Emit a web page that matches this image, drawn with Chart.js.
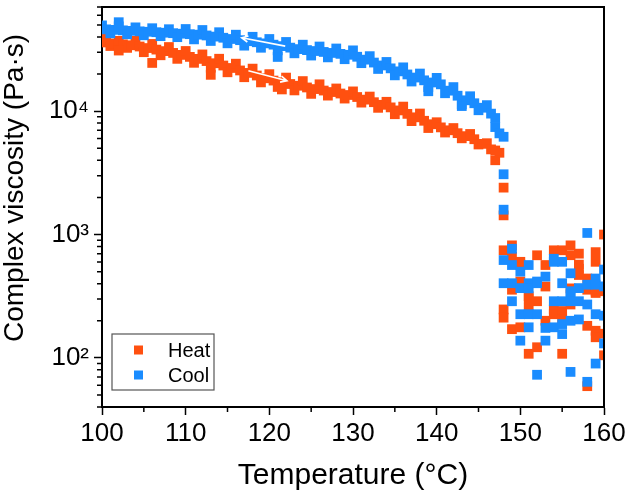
<!DOCTYPE html>
<html><head><meta charset="utf-8">
<script src="https://cdn.jsdelivr.net/npm/chart.js@4.4.0/dist/chart.umd.min.js"></script>
<style>html,body{margin:0;padding:0;background:#fff;}canvas{display:block;}</style>
</head><body>
<canvas id="c" width="626" height="493" style="width:626px;height:493px"></canvas>
<script>
// ---------- data ----------
const seriesNames = ['Heat', 'Cool'];
const seriesColors = ['#FF5010', '#1A8CFF'];
const xTitle = 'Temperature (°C)';
const yTitle = 'Complex viscosity (Pa·s)';

const heatT = [100,100.5,101,101.5,102,102.5,103,103.5,104,104.5,105,105.5,106,106.5,107,107.5,108,108.5,109,109.5,
  110,110.5,111,111.5,112,112.5,113,113.5,114,114.5,115,115.5,116,116.5,117,117.5,118,118.5,119,119.5,
  120,120.5,121,121.5,122,122.5,123,123.5,124,124.5,125,125.5,126,126.5,127,127.5,128,128.5,129,129.5,
  130,130.5,131,131.5,132,132.5,133,133.5,134,134.5,135,135.5,136,136.5,137,137.5,138,138.5,139,139.5,
  140,140.5,141,141.5,142,142.5,143,143.5,144,144.5,145,145.5,146,146.5,147,147.5,
  102,106,113,121.5,147,
  148,148,
  148,148,148,149,149,149,149,150,150,150,150,151,151,151,151,152,152,152,153,153,153,154,154,154,155,155,155,155,
  156,156,156,156,157,157,157,157,158,158,158,158,159,159,159,159,159,159,160,160,160,160];
const heatV = [38540,36060,33730,35400,37150,34800,32580,34200,37130,33420,30060,32470,35060,31550,28380,30660,33100,29650,26550,28580,
  30740,27540,24660,26520,28830,25470,22500,24460,26600,23440,20660,22390,24260,21380,18840,20420,22120,19450,17110,18470,
  19950,17700,15710,17140,18710,16600,14730,16070,17530,15560,13810,15100,16510,14690,13370,14290,15270,13900,12650,13520,
  14460,13020,11730,12400,13130,11820,10640,11260,11910,10730,9444,10140,10890,9506,8302,8913,9571,8356,7298,7834,
  8132,7388,6712,6998,7298,6630,6024,6273,6534,5922,5368,5433,5498,4900,4000,4600,
  31000,24600,19700,15000,4800,
  2400,1430,
  745,247,212,817,660,357,171,601,570,416,177,316,304,255,108,679,288,122,566,379,200,745,247,226,745,240,206,108,
  817,680,366,271,700,570,528,470,440,357,182,59,720,601,346,336,166,147,1000,347,157,105];

const coolT = [100,100.5,101,101.5,102,102.5,103,103.5,104,104.5,105,105.5,106,106.5,107,107.5,108,108.5,109,109.5,
  110,110.5,111,111.5,112,112.5,113,113.5,114,114.5,115,115.5,116,116.5,117,117.5,118,118.5,119,119.5,
  120,120.5,121,121.5,122,122.5,123,123.5,124,124.5,125,125.5,126,126.5,127,127.5,128,128.5,129,129.5,
  130,130.5,131,131.5,132,132.5,133,133.5,134,134.5,135,135.5,136,136.5,137,137.5,138,138.5,139,139.5,
  140,140.5,141,141.5,142,142.5,143,143.5,144,144.5,145,145.5,146,146.5,147,147.5,
  102,121,139,143,147,
  148,148,148,
  148,148,149,149,149,149,150,150,150,150,151,151,151,151,151,152,152,152,152,153,153,153,154,154,154,154,155,155,155,155,155,
  156,156,156,156,156,156,157,157,157,158,158,158,158,159,159,159,159,160,160,160,160];
const coolV = [49570,46030,42740,45600,48660,45190,41970,44770,47780,44360,41200,44010,47010,43650,40540,43250,46150,42850,39800,42460,
  46330,42070,38190,41690,45480,41070,37060,40220,43630,39360,35480,38460,41670,37620,33960,36900,40070,36180,32660,35440,
  38450,34590,31120,33650,36380,32730,29440,31840,34580,31260,28240,30720,33410,30200,27290,29650,32200,29140,26370,28640,
  31100,27610,24490,26150,27920,24770,21980,23470,25050,22230,19510,21020,22650,19840,17390,18730,20180,17780,15680,17080,
  18620,16500,13970,14660,15670,13340,11360,12250,13210,11590,10170,10660,11190,9550,7433,6607,
  52600,27500,14500,11000,8800,
  6200,3080,1590,
  621,403,767,566,403,288,500,368,226,138,566,403,366,226,177,416,403,226,73,456,175,138,636,601,288,177,601,403,288,188,156,
  485,347,327,288,200,77,368,288,205,1030,392,271,64,440,392,226,90,520,380,220,131];

// axis ticks and labels
const xTicks = [100, 110, 120, 130, 140, 150, 160];
const xMinorTicks = [105, 115, 125, 135, 145, 155];
const yTicks = [100, 1000, 10000];
const yTickLabels = ['10²', '10³', '10⁴'];
const yDecades = [10, 100, 1000, 10000];
const yMinorMult = [2, 3, 4, 5, 6, 7, 8, 9];

// white direction arrows: [from, to] in data coordinates
const arrowCool = [[121.9, 33650], [116.7, 39300]];
const arrowHeat = [[117.5, 21230], [122.1, 17650]];

// ---------- chart ----------
const FONT = "'Liberation Sans', Arial, Helvetica, sans-serif";

const decor = {
  id: 'decor',
  afterDatasetsDraw(chart) {
    const { ctx, scales: { x, y } } = chart;
    ctx.save();
    ctx.strokeStyle = '#fff';
    ctx.lineWidth = 1.6;
    for (const a of [arrowCool, arrowHeat]) {
      const x1 = x.getPixelForValue(a[0][0]), y1 = y.getPixelForValue(a[0][1]);
      const x2 = x.getPixelForValue(a[1][0]), y2 = y.getPixelForValue(a[1][1]);
      const ang = Math.atan2(y2 - y1, x2 - x1);
      ctx.beginPath();
      ctx.moveTo(x1, y1); ctx.lineTo(x2, y2);
      const L = 7, w = 0.45;
      ctx.moveTo(x2 - L * Math.cos(ang - w), y2 - L * Math.sin(ang - w));
      ctx.lineTo(x2, y2);
      ctx.lineTo(x2 - L * Math.cos(ang + w), y2 - L * Math.sin(ang + w));
      ctx.stroke();
    }
    ctx.restore();
  },
  afterDraw(chart) {
    const { ctx, chartArea: ca, scales: { x, y } } = chart;
    ctx.save();
    ctx.strokeStyle = '#000';
    ctx.lineWidth = 2;
    ctx.beginPath();
    ctx.moveTo(ca.left - 1, ca.top);
    ctx.lineTo(ca.right, ca.top);
    ctx.lineTo(ca.right, ca.bottom + 1);
    ctx.stroke();
    // minor ticks
    ctx.lineWidth = 1.5;
    ctx.beginPath();
    for (const d of yDecades) for (const m of yMinorMult) {
      const py = y.getPixelForValue(d * m);
      if (py < ca.top || py > ca.bottom) continue;
      ctx.moveTo(ca.left - 5, py); ctx.lineTo(ca.left, py);
    }
    for (const v of xMinorTicks) {
      const px = x.getPixelForValue(v);
      ctx.moveTo(px, ca.bottom); ctx.lineTo(px, ca.bottom + 5);
    }
    ctx.stroke();
    // y axis title
    ctx.save();
    ctx.translate(15, 188);
    ctx.rotate(-Math.PI / 2);
    ctx.font = '28px ' + FONT;
    ctx.fillStyle = '#000';
    ctx.textAlign = 'center';
    ctx.textBaseline = 'middle';
    ctx.fillText(yTitle, 0, 0);
    ctx.restore();
    // legend
    const lx = ca.left + 10, ly = ca.bottom - 73, lw = 102, lh = 56;
    ctx.fillStyle = '#fff';
    ctx.fillRect(lx, ly, lw, lh);
    ctx.strokeStyle = '#555';
    ctx.lineWidth = 1.2;
    ctx.strokeRect(lx, ly, lw, lh);
    ctx.font = '20px ' + FONT;
    ctx.textBaseline = 'middle';
    ctx.textAlign = 'left';
    chart.data.datasets.forEach((ds, i) => {
      const cy = ly + 16 + i * 25;
      ctx.fillStyle = ds.backgroundColor;
      ctx.fillRect(lx + 22, cy - 4.5, 9, 9);
      ctx.fillStyle = '#000';
      ctx.fillText(ds.label, lx + 56, cy + 1);
    });
    ctx.restore();
  }
};

function pts(T, V) { return T.map((t, i) => ({ x: t, y: V[i] })); }

new Chart(document.getElementById('c'), {
  type: 'scatter',
  data: {
    datasets: [
      { label: seriesNames[0], data: pts(heatT, heatV), backgroundColor: seriesColors[0], borderWidth: 0,
        pointStyle: 'rect', pointRadius: 6.9, clip: 0, order: 1 },
      { label: seriesNames[1], data: pts(coolT, coolV), backgroundColor: seriesColors[1], borderWidth: 0,
        pointStyle: 'rect', pointRadius: 6.9, clip: 0, order: 0 }
    ]
  },
  options: {
    responsive: false, animation: false, devicePixelRatio: 1,
    layout: { padding: { left: 0, right: 22, top: 2, bottom: 0 } },
    plugins: { legend: { display: false }, tooltip: { enabled: false } },
    scales: {
      x: {
        type: 'linear', min: 100, max: 160,
        afterBuildTicks: s => { s.ticks = xTicks.map(v => ({ value: v })); },
        afterFit: s => { s.height = 86; s.paddingLeft = 0; s.paddingRight = 0; },
        grid: { display: true, drawOnChartArea: false, drawTicks: true, tickLength: 8, tickColor: '#000', tickWidth: 1.5 },
        border: { display: true, color: '#000', width: 2 },
        ticks: { color: '#000', font: { family: FONT, size: 26 }, padding: 3, maxRotation: 0, autoSkip: false },
        title: { display: true, text: xTitle, color: '#000', font: { family: FONT, size: 30, lineHeight: 1 }, padding: { top: 0, bottom: 2 } }
      },
      y: {
        type: 'logarithmic', min: 40, max: 70000,
        afterBuildTicks: s => { s.ticks = yTicks.map(v => ({ value: v })); },
        afterFit: s => { s.width = 102; s.paddingTop = 0; s.paddingBottom = 0; },
        grid: { display: true, drawOnChartArea: false, drawTicks: true, tickLength: 8, tickColor: '#000', tickWidth: 1.5 },
        border: { display: true, color: '#000', width: 2 },
        ticks: { color: '#000', font: { family: FONT, size: 26 }, padding: 5, autoSkip: false,
          callback: v => { const i = yTicks.indexOf(v); return i >= 0 ? yTickLabels[i] : ''; } },
        title: { display: false }
      }
    }
  },
  plugins: [decor]
});
</script>
</body></html>
